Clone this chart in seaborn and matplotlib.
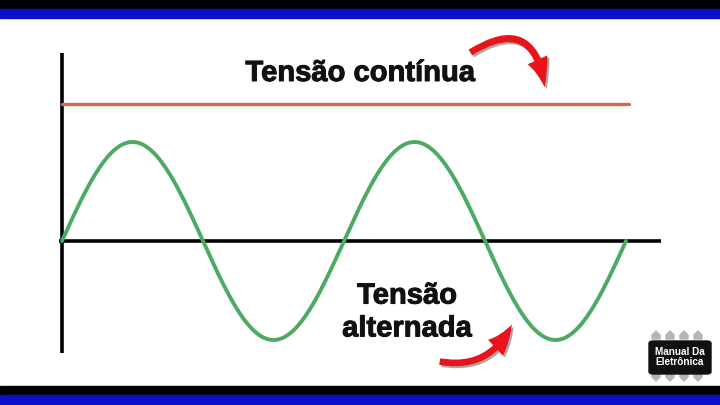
import numpy as np
import pandas as pd
import seaborn as sns
import matplotlib.pyplot as plt
import matplotlib.patheffects as pe
from matplotlib.patches import FancyArrowPatch, FancyBboxPatch, Rectangle, Polygon

# chart values
cycles = 2.0          # number of AC periods drawn
amplitude = 1.0       # AC peak
dc_level = 1.38       # DC line level (relative to AC peak)
dc_end = 2.01         # DC line length (in periods)
axis_x_end = 2.125    # horizontal axis length (in periods)
axis_y_top = 1.90
axis_y_bottom = -1.13
label_dc = "Tensão contínua"
label_ac = "Tensão\nalternada"
logo_text = "Manual Da\nEletrônica"

t = np.linspace(0, cycles, 600)
ac = pd.DataFrame({"t": t, "v": amplitude * np.sin(2 * np.pi * t)})
dc = pd.DataFrame({"t": [0, dc_end], "v": [dc_level, dc_level]})

sns.set_theme(style="white")
plt.rcParams["font.family"] = ["Liberation Sans", "DejaVu Sans"]

fig = plt.figure(figsize=(7.2, 4.05), dpi=100)
ax = fig.add_axes([0, 0, 1, 1])
# pixel mapping: x px = 62 + 282*t ; y px = 241 - 99*v
XS, YS = 282, 99
ax.set_xlim(-62 / XS, 658 / XS)
ax.set_ylim(-164 / YS, 241 / YS)
ax.axis("off")

green = "#4caa62"
orange = "#d2694a"

# axes of the diagram
ax.plot([0, 0], [axis_y_bottom, axis_y_top], color="black", lw=2.6, solid_capstyle="butt")
ax.plot([-0.01, axis_x_end], [0, 0], color="black", lw=2.6, solid_capstyle="butt")

sns.lineplot(data=dc, x="t", y="v", ax=ax, color=orange, lw=2.4)
sns.lineplot(data=ac, x="t", y="v", ax=ax, color=green, lw=2.8)

heavy = [pe.withStroke(linewidth=0.7, foreground="#111111")]
ax.text((360 - 62) / XS, (241 - 73) / YS, label_dc, ha="center", va="center", fontsize=21,
        fontweight="bold", color="#111111", path_effects=heavy)
ax.text((407 - 62) / XS, (241 - 312) / YS, label_ac, ha="center", va="center", fontsize=21,
        fontweight="bold", color="#111111", linespacing=1.22, path_effects=heavy)

def px(x, y):
    return ((x - 62) / XS, (241 - y) / YS)

# red curved arrows (with a faint shadow)
for (p0, p1, rad) in [((468, 54), (545, 90), -0.8), ((437, 361), (513, 322), 0.4)]:
    for off, col, z in [((2, 2), "#555555", 3), ((0, 0), "#e8141a", 4)]:
        a = FancyArrowPatch(px(p0[0] + off[0], p0[1] + off[1]), px(p1[0] + off[0], p1[1] + off[1]),
                            connectionstyle=f"arc3,rad={rad}",
                            arrowstyle="simple,head_length=1.7,head_width=1.3,tail_width=0.4",
                            mutation_scale=12, color=col, lw=0, zorder=z,
                            alpha=0.5 if col == "#555555" else 1)
        ax.add_patch(a)

# figure bands
fig.patches.append(Rectangle((0, 1 - 9 / 405), 1, 9 / 405, transform=fig.transFigure, color="black", zorder=0))
fig.patches.append(Rectangle((0, 1 - 18 / 405), 1, 9 / 405, transform=fig.transFigure, color="#0d10c8", zorder=0))
fig.patches.append(Rectangle((0, 10 / 405), 1, 9 / 405, transform=fig.transFigure, color="black", zorder=0))
fig.patches.append(Rectangle((0, 0), 1, 10 / 405, transform=fig.transFigure, color="#0d10c8", zorder=0))

# logo
def fx(x):
    return x / 720
def fy(y):
    return 1 - y / 405
for i in range(4):
    cx = 656 + i * 14
    fig.patches.append(Polygon([(fx(cx - 4), fy(339)), (fx(cx + 4), fy(339)), (fx(cx + 4), fy(335)),
                                (fx(cx), fy(331)), (fx(cx - 4), fy(335))],
                               transform=fig.transFigure, color="#b5b5b5", zorder=1))
    fig.patches.append(Polygon([(fx(cx - 4), fy(373)), (fx(cx + 4), fy(373)), (fx(cx + 4), fy(377)),
                                (fx(cx), fy(381)), (fx(cx - 4), fy(377))],
                               transform=fig.transFigure, color="#b5b5b5", zorder=1))
fig.patches.append(FancyBboxPatch((fx(649), fy(374)), fx(62), 33 / 405,
                                  boxstyle="round,pad=0,rounding_size=0.006",
                                  transform=fig.transFigure, color="#111111", zorder=2))
fig.text(fx(680), fy(357), logo_text, ha="center", va="center", fontsize=7.2,
         color="white", fontweight="bold", linespacing=1.0, zorder=3)

fig.savefig("out.png", dpi=100)
